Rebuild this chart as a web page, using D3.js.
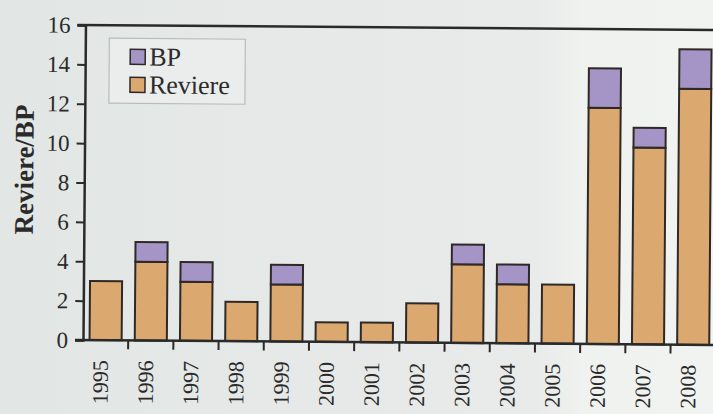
<!DOCTYPE html>
<html>
<head>
<meta charset="utf-8">
<script src="https://cdn.jsdelivr.net/npm/d3@7"></script>
<style>
  body { margin: 0; background: #e6e9e7; }
  svg { display: block; }
  text { font-family: "Liberation Serif", "DejaVu Serif", serif; fill: #2a2a2a; }
</style>
</head>
<body>
<script>
// data
var years = ["1995","1996","1997","1998","1999","2000","2001","2002","2003","2004","2005","2006","2007","2008"];
var reviere = [3, 4, 3, 2, 2.9, 1, 1, 2, 4, 3, 3, 12, 10, 13];
var bp = [0, 1, 1, 0, 1, 0, 0, 0, 1, 1, 0, 2, 1, 2];
var yTicks = [0, 2, 4, 6, 8, 10, 12, 14, 16];
var seriesNames = ["BP", "Reviere"];
var seriesColors = {"BP": "#a495c6", "Reviere": "#dba870"};

var W = 713, H = 414;
var plotLeft = 83, plotBottom = 340, plotTop = 25;

var svg = d3.select("body").append("svg")
	.attr("width", W)
	.attr("height", H);

// page background, a bit whiter on the right column
var grad = svg.append("defs").append("linearGradient")
	.attr("id", "page")
	.attr("x1", 0).attr("x2", 1).attr("y1", 0).attr("y2", 0);
grad.append("stop").attr("offset", "0%").attr("stop-color", "#e2e6e4");
grad.append("stop").attr("offset", "75%").attr("stop-color", "#e8ebe9");
grad.append("stop").attr("offset", "82%").attr("stop-color", "#f0f2f0");
grad.append("stop").attr("offset", "100%").attr("stop-color", "#f1f3f1");
svg.append("rect").attr("width", W).attr("height", H).attr("fill", "url(#page)");

// the scan is tilted slightly
var g = svg.append("g")
	.attr("transform", "rotate(0.45," + plotLeft + "," + plotBottom + ")");

var x = d3.scaleBand()
	.domain(years)
	.range([plotLeft, plotLeft + 14 * 45.2])
	.paddingInner(0.29)
	.paddingOuter(0.145);

var y = d3.scaleLinear()
	.domain([0, 16])
	.range([plotBottom, plotTop]);

// stacked rows
var rows = years.map(function(d, i) {
	return {year: d, Reviere: reviere[i], BP: bp[i]};
});
var stack = d3.stack().keys(["Reviere", "BP"])(rows);

g.selectAll("g.series")
	.data(stack)
	.enter().append("g")
	.attr("class", "series")
	.attr("fill", function(d) { return seriesColors[d.key]; })
	.selectAll("rect")
	.data(function(d) { return d.filter(function(e) { return e[1] > e[0]; }); })
	.enter().append("rect")
	.attr("x", function(d) { return x(d.data.year); })
	.attr("width", x.bandwidth())
	.attr("y", function(d) { return y(d[1]); })
	.attr("height", function(d) { return y(d[0]) - y(d[1]); })
	.attr("stroke", "#2e2926")
	.attr("stroke-width", 2);

// y axis
var yAxis = g.append("g")
	.attr("transform", "translate(" + plotLeft + ",0)")
	.call(d3.axisLeft(y).tickValues(yTicks).tickSize(8).tickPadding(7));
yAxis.selectAll("text").style("font-size", "23px").attr("fill", "#2a2a2a");
yAxis.selectAll("line").attr("stroke", "#2a2a2a").attr("stroke-width", 2);
yAxis.select(".domain").attr("stroke", "#2a2a2a").attr("stroke-width", 2.5);

// top frame line
g.append("line")
	.attr("x1", plotLeft - 8).attr("x2", W + 10)
	.attr("y1", y(16)).attr("y2", y(16))
	.attr("stroke", "#2a2a2a").attr("stroke-width", 2.5);

// x axis: labels under bars, ticks between bars
var xAxis = g.append("g")
	.attr("transform", "translate(0," + plotBottom + ")")
	.call(d3.axisBottom(x).tickSize(0).tickPadding(0));
xAxis.select(".domain").remove();
xAxis.append("line")
	.attr("x1", plotLeft - 8).attr("x2", W + 10)
	.attr("stroke", "#2a2a2a").attr("stroke-width", 2.5);
xAxis.selectAll(".gap")
	.data(years.slice(1))
	.enter().append("line")
	.attr("class", "gap")
	.attr("x1", function(d) { return x(d) - x.step() * x.paddingInner() / 2; })
	.attr("x2", function(d) { return x(d) - x.step() * x.paddingInner() / 2; })
	.attr("y1", 0).attr("y2", 9)
	.attr("stroke", "#2a2a2a").attr("stroke-width", 2);
xAxis.selectAll(".tick text")
	.style("font-size", "22px")
	.attr("fill", "#2a2a2a")
	.attr("text-anchor", "end")
	.attr("dominant-baseline", "central")
	.attr("transform", "translate(-5,20) rotate(-90)")
	.attr("x", 0).attr("y", 0).attr("dy", null);

// y title
g.append("text")
	.attr("transform", "translate(23,170) rotate(-90)")
	.attr("text-anchor", "middle")
	.attr("dominant-baseline", "central")
	.style("font-size", "27px")
	.style("font-weight", "bold")
	.text("Reviere/BP");

// legend
var lg = g.append("g").attr("transform", "translate(107,38)");
lg.append("rect")
	.attr("width", 136).attr("height", 65)
	.attr("fill", "#eaedeb")
	.attr("stroke", "#b9bcba").attr("stroke-width", 1.2);
var items = lg.selectAll(".item")
	.data(seriesNames)
	.enter().append("g")
	.attr("class", "item")
	.attr("transform", function(d, i) { return "translate(21," + (11 + i * 28) + ")"; });
items.append("rect")
	.attr("width", 15).attr("height", 15)
	.attr("fill", function(d) { return seriesColors[d]; })
	.attr("stroke", "#2e2926").attr("stroke-width", 1.5);
items.append("text")
	.attr("x", 19).attr("y", 16)
	.style("font-size", "26px")
	.text(function(d) { return d; });
</script>
</body>
</html>
